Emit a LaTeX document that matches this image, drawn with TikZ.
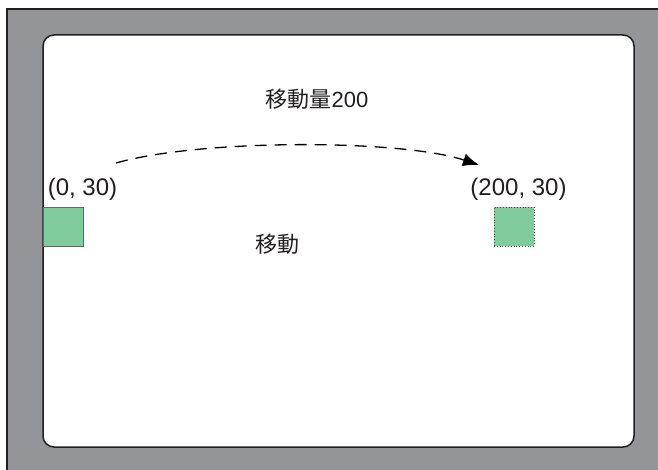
\documentclass[tikz,border=0pt]{standalone}
\usepackage{fontspec}
\setmainfont{Liberation Sans}
\newfontfamily\cjk{Noto Sans CJK JP}
\usetikzlibrary{arrows.meta}
\definecolor{framegray}{HTML}{939598}
\definecolor{boxgreen}{HTML}{80CB9B}
\definecolor{edgegray}{HTML}{231F20}
\tikzset{
  lbl/.style={inner sep=0pt, font=\fontsize{22}{26}\selectfont, text=edgegray},
  coordlbl/.style={lbl, font=\fontsize{24}{28}\selectfont},
  sq/.style={minimum width=40pt, minimum height=39pt, fill=boxgreen, inner sep=0pt, draw=black!60, line width=0.8pt},
  move/.style={dash pattern=on 12pt off 8pt, line width=1.3pt, -{Latex[length=16pt,width=13pt]}}
}
\begin{document}
\begin{tikzpicture}[x=1pt,y=-1pt]
\useasboundingbox (0,0) rectangle (658,470);
\fill[white] (0,0) rectangle (658,470);
\draw[fill=framegray, draw=edgegray, line width=2pt] (7,9) rectangle (670,480);
\draw[fill=white, draw=edgegray, line width=1.5pt, rounded corners=11pt] (43,35) rectangle (634,447);
\node[sq] (a) at (63,226.5) {};
\node[sq, dotted, draw=black!70] (b) at (514,226.5) {};
\node[coordlbl] (la) at (82.5,189) {(0, 30)};
\node[coordlbl] (lb) at (518.5,189) {(200, 30)};
\node[lbl] (lt) at (317,99) {{\cjk 移動量}200};
\node[lbl] (lm) at (277,244) {\cjk 移動};
\coordinate (s) at (116,163);
\coordinate (t) at (479,165);
\draw[move] (s) .. controls (200,139) and (400,139) .. (t);
\end{tikzpicture}
\end{document}
